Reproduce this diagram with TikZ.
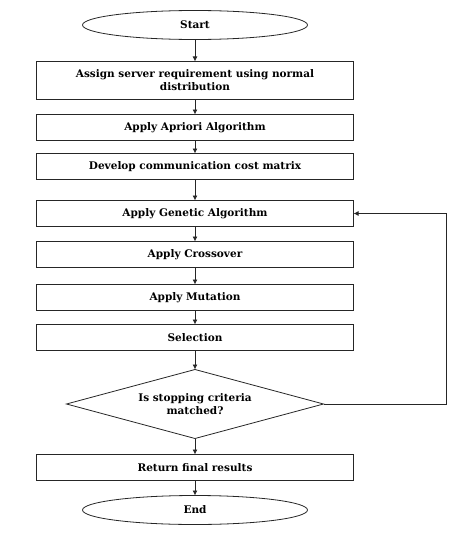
\documentclass[tikz,border=0pt]{standalone}
\usepackage{fontspec}
\setmainfont{DejaVu Serif}
\usetikzlibrary{arrows.meta,positioning,shapes.geometric}

\begin{document}
\begin{tikzpicture}[
    x=1pt, y=-1pt,
    font=\bfseries\fontsize{10.5}{13}\selectfont,
    line/.style={draw=black!85, line width=0.8pt},
    stepbox/.style={line, minimum width=317pt, minimum height=26pt, align=center, inner sep=1pt, outer sep=0pt},
    term/.style={line, ellipse, minimum width=225pt, minimum height=29pt, inner sep=0pt, outer sep=0pt},
    check/.style={line, diamond, aspect=3.7, minimum width=257pt, minimum height=69pt, align=center, inner sep=0pt, outer sep=0pt},
    arrow/.style={line, -{Latex[length=5pt,width=5pt]}}
  ]
  \useasboundingbox (0,0) rectangle (449,551);

  \node[term] (start) at (195,25) {Start};
  \node[stepbox, below=22pt of start, minimum height=38pt] (assign) {Assign server requirement using normal\\distribution};
  \node[stepbox, below=15pt of assign] (apriori) {Apply Apriori Algorithm};
  \node[stepbox, below=13pt of apriori] (cost) {Develop communication cost matrix};
  \node[stepbox, below=21pt of cost] (genetic) {Apply Genetic Algorithm};
  \node[stepbox, below=15pt of genetic] (cross) {Apply Crossover};
  \node[stepbox, below=17pt of cross] (mutate) {Apply Mutation};
  \node[stepbox, below=14pt of mutate] (select) {Selection};
  \node[check, below=19pt of select] (crit) {Is stopping criteria\\matched?};
  \node[stepbox, below=16pt of crit] (result) {Return final results};
  \node[term, below=15pt of result] (finish) {End};

  \draw[arrow] (start) -- (assign);
  \draw[arrow] (assign) -- (apriori);
  \draw[arrow] (apriori) -- (cost);
  \draw[arrow] (cost) -- (genetic);
  \draw[arrow] (genetic) -- (cross);
  \draw[arrow] (cross) -- (mutate);
  \draw[arrow] (mutate) -- (select);
  \draw[arrow] (select) -- (crit);
  \draw[arrow] (crit) -- (result);
  \draw[arrow] (result) -- (finish);
  \draw[arrow] (crit.east) -- ++(123,0) |- (genetic.east);
\end{tikzpicture}
\end{document}
